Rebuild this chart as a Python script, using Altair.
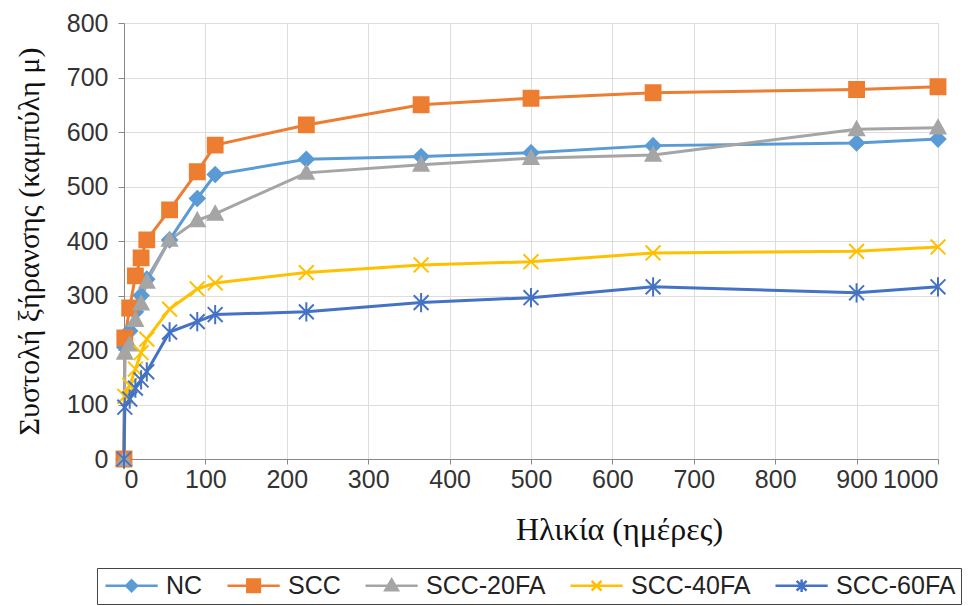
import altair as alt
import pandas as pd

series = ["NC", "SCC", "SCC-20FA", "SCC-40FA", "SCC-60FA"]
colors = ["#5B9BD5", "#ED7D31", "#A5A5A5", "#FFC000", "#4472C4"]
ages = [0, 1, 7, 14, 21, 28, 56, 90, 112, 224, 365, 500, 650, 900, 1000]

nc = [0, 205, 235, 270, 300, 330, 402, 478, 522, 550, 555, 562, 575, 580, 587]
scc = [0, 222, 277, 336, 369, 402, 457, 527, 576, 613, 650, 662, 672, 678, 683]
scc20 = [0, 195, 210, 255, 285, 325, 402, 438, 450, 525, 540, 552, 558, 605, 608]
scc40 = [0, 115, 135, 165, 195, 220, 275, 312, 323, 342, 356, 362, 378, 381, 389]
scc60 = [0, 95, 110, 130, 145, 160, 233, 252, 265, 270, 287, 296, 316, 305, 316]

x_ticks = list(range(0, 1001, 100))
y_ticks = list(range(0, 801, 100))

marker_paths = [
    "M0,-1L1,0L0,1L-1,0Z",
    "M-1,-1L1,-1L1,1L-1,1Z",
    "M0,-1L1,0.8L-1,0.8Z",
    "M-1,-1L1,1M-1,1L1,-1",
    "M-1,-1L1,1M-1,1L1,-1M0,-1.3L0,1.3",
]
# legend symbols: a short line with the marker in its middle
legend_paths = [
    "M-1,0L4.8,0M1.9,-0.6L2.5,0L1.9,0.6L1.3,0Z",
    "M-1,0L4.8,0M1.2,-0.7L2.6,-0.7L2.6,0.7L1.2,0.7Z",
    "M-1,0L4.8,0M1.9,-0.7L2.6,0.5L1.2,0.5Z",
    "M-1,0L4.8,0M1.35,-0.55L2.45,0.55M1.35,0.55L2.45,-0.55",
    "M-1,0L4.8,0M1.35,-0.55L2.45,0.55M1.35,0.55L2.45,-0.55M1.9,-0.7L1.9,0.7",
]

rows = []
for name, vals in zip(series, [nc, scc, scc20, scc40, scc60]):
    for a, v in zip(ages, vals):
        rows.append({"age": a, "value": v, "series": name})
df = pd.DataFrame(rows)

shape_sig = " : ".join(
    f"datum.value === '{s}' ? '{p}'" for s, p in zip(series, legend_paths)
) + " : 'circle'"
fill_sig = "scale('color', datum.value)"

color_scale = alt.Scale(domain=series, range=colors)

x_enc = alt.X(
    "age:Q",
    scale=alt.Scale(domain=[0, 1000], nice=False),
    axis=alt.Axis(
        values=x_ticks,
        format="d",
        title="Ηλικία (ημέρες)",
        titleFont="Liberation Serif",
        titleFontSize=32,
        titleFontWeight="normal",
        titleColor="#111",
        titlePadding=22,
        titleX=495,
        labelFont="Liberation Sans",
        labelFontSize=25,
        labelColor="#333",
        labelPadding=3,
        tickSize=5,
    ),
)
y_enc = alt.Y(
    "value:Q",
    scale=alt.Scale(domain=[0, 800], nice=False),
    axis=alt.Axis(
        values=y_ticks,
        title="Συστολή ξήρανσης (καμπύλη μ)",
        titleFont="Liberation Serif",
        titleFontSize=30,
        titleFontWeight="normal",
        titleColor="#111",
        titlePadding=22,
        labelFont="Liberation Sans",
        labelFontSize=25,
        labelColor="#333",
        labelPadding=10,
        tickSize=6,
    ),
)

lines = alt.Chart(df).mark_line(strokeWidth=3).encode(
    x=x_enc,
    y=y_enc,
    color=alt.Color(
        "series:N",
        scale=color_scale,
        sort=series,
        legend=alt.Legend(
            title=None,
            orient="none",
            direction="horizontal",
            legendX=-27,
            legendY=545,
            labelFont="Liberation Sans",
            labelFontSize=25,
            labelColor="#222",
            symbolSize=324,
            symbolStrokeWidth=2.5,
            symbolType=alt.ExprRef(expr=shape_sig),
            symbolFillColor=alt.ExprRef(expr=fill_sig),
            columnPadding=19,
            labelOffset=39,
            padding=5,
            strokeColor="#444",
        ),
    ),
    detail="series:N",
)

point_layers = []
for name, col, path in zip(series, colors, marker_paths):
    point_layers.append(
        alt.Chart(df)
        .transform_filter(alt.datum.series == name)
        .mark_point(
            shape=path, filled=True, fill=col, stroke=col, strokeWidth=2, opacity=1, size=220
        )
        .encode(x="age:Q", y="value:Q")
    )

chart = (
    alt.layer(lines, *point_layers)
    .properties(
        width=814,
        height=436,
        padding={"left": 124, "top": 23, "right": 40, "bottom": 147},
        autosize=alt.AutoSizeParams(type="none"),
    )
    .configure_view(stroke="#000", strokeWidth=2.5)
    .configure_axis(
        grid=True,
        gridColor="#8a8a8a",
        gridDash=[4, 3],
        gridWidth=1,
        domainColor="#000",
        domainWidth=2.5,
        tickColor="#333",
        tickWidth=1,
    )
    .configure(background="white")
)

chart.save("out.html", embed_options={"renderer": "svg", "actions": False})
